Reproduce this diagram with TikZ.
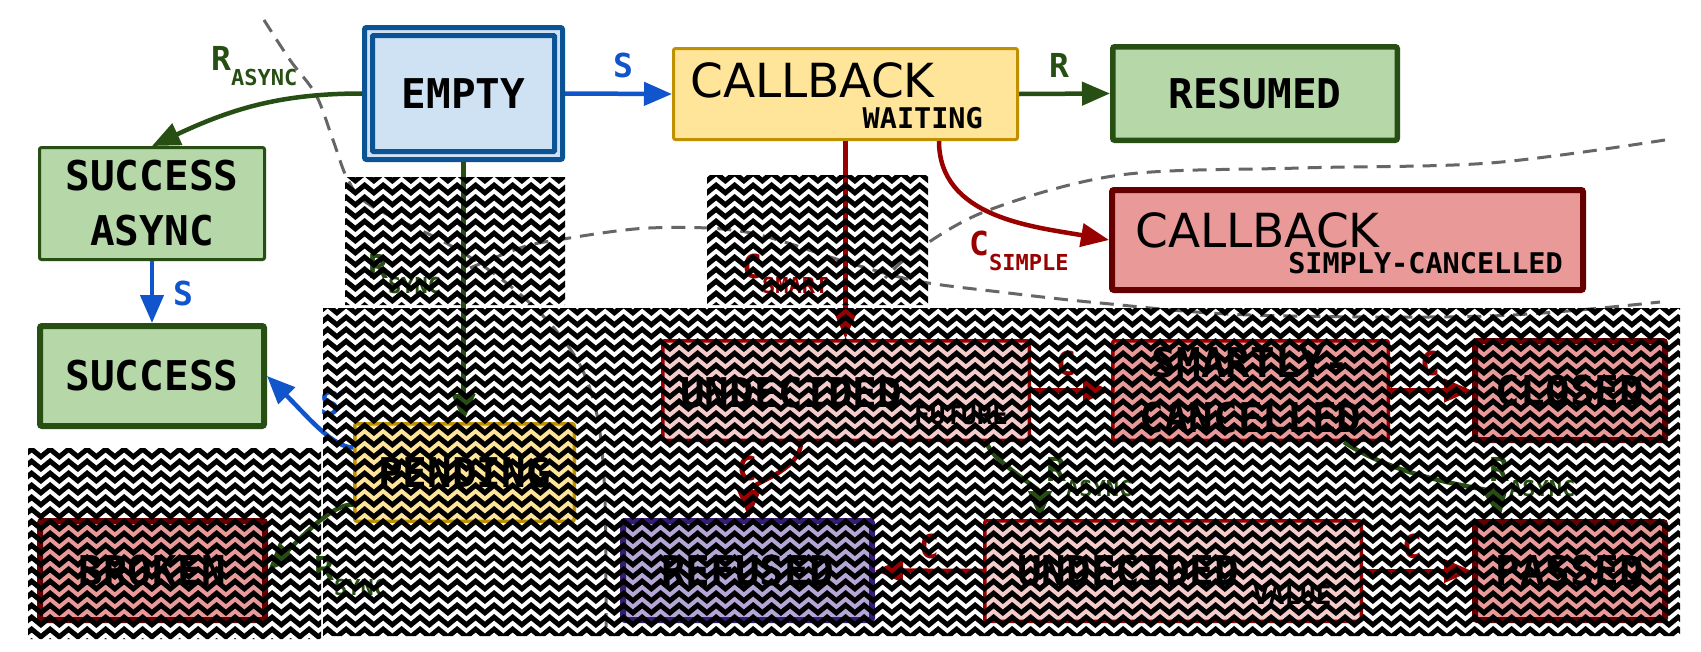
\documentclass[tikz,border=0pt]{standalone}
\usepackage{fontspec}
\setmainfont{DejaVu Sans}
\newfontfamily\monof{DejaVu Sans Mono}
\usetikzlibrary{arrows.meta,decorations.pathmorphing}
\definecolor{bluefill}{HTML}{CFE2F3}
\definecolor{blueline}{HTML}{0B5394}
\definecolor{yelfill}{HTML}{FFE599}
\definecolor{yelline}{HTML}{BF9000}
\definecolor{grnfill}{HTML}{B6D7A8}
\definecolor{grnline}{HTML}{274E13}
\definecolor{redfill}{HTML}{EA9999}
\definecolor{redline}{HTML}{660000}
\definecolor{pinkfill}{HTML}{F4CCCC}
\definecolor{darkred}{HTML}{990000}
\definecolor{purfill}{HTML}{B4A7D6}
\definecolor{purline}{HTML}{351C75}
\definecolor{arrblue}{HTML}{1155CC}
\definecolor{dashgray}{HTML}{666666}
\newcommand\bigmono{\monof\bfseries\fontsize{41}{55}\selectfont}
\newcommand\midmono{\monof\bfseries\fontsize{28.5}{32}\selectfont}
\newcommand\submono{\monof\bfseries\fontsize{26}{30}\selectfont}
\newcommand\cbfont{\fontsize{47}{50}\selectfont}
\newcommand\lblmain{\monof\bfseries\fontsize{33}{36}\selectfont}
\newcommand\lblsub{\monof\bfseries\fontsize{22}{24}\selectfont}
\newcommand\Lb[2]{{\lblmain #1}\raisebox{-15pt}{\lblsub #2}}
\begin{document}
\begin{tikzpicture}[x=1pt,y=-1pt,
  box/.style={draw, rounded corners=2pt, inner sep=0pt},
  arr/.style={line width=4.5pt, -{Triangle[length=28pt,width=23pt]}},
  lbl/.style={anchor=base west, inner sep=0pt},
  dashln/.style={draw=dashgray, line width=3pt, dash pattern=on 14pt off 9pt},
  zz/.style={line width=5pt, line join=miter, miter limit=10, decorate,
     decoration={zigzag, segment length=18.5pt, amplitude=3.8pt}}]
\useasboundingbox (0,0) rectangle (1701,651);
\fill[white] (0,0) rectangle (1701,651);

% dashed boundary curves
\draw[dashln] plot[smooth, tension=0.55] coordinates {(264,20) (290,60) (316,95) (333,140) (348,180) (370,205) (446,243) (500,278) (545,318) (580,365) (598,420) (605,500) (606,634)};
\draw[dashln] plot[smooth, tension=0.55] coordinates {(470,268) (520,248) (557,240) (649,228) (746,232) (846,262) (917,281) (1000,292) (1100,303) (1250,315) (1490,316) (1660,302)};
\draw[dashln] plot[smooth, tension=0.55] coordinates {(1665,140) (1490,163) (1300,168) (1120,175) (989,210) (917,250) (885,278)};

% boxes
\node[box, fill=bluefill, draw=blueline, line width=5pt, minimum width=198pt, minimum height=132pt] (empty) at (463.5,93.5) {};
\node[draw=blueline, line width=5pt, minimum width=182pt, minimum height=116pt, inner sep=0pt, rounded corners=1pt, font=\bigmono] (emptyin) at (empty.center) {EMPTY};

\node[box, fill=yelfill, draw=yelline, line width=3pt, minimum width=344pt, minimum height=91pt] (cbw) at (845.5,94) {};
\node[anchor=base west, inner sep=0pt, font=\cbfont] (cbwa) at (690,97) {CALLBACK};
\node[anchor=base east, inner sep=0pt, font=\midmono] (cbwb) at (983,128) {WAITING};

\node[box, fill=grnfill, draw=grnline, line width=5.5pt, minimum width=284.5pt, minimum height=93.5pt, font=\bigmono] (resumed) at (1255,93.5) {RESUMED};

\node[box, fill=grnfill, draw=grnline, line width=3pt, minimum width=225pt, minimum height=112pt, font=\bigmono, align=center] (sa) at (152,203.5) {SUCCESS\\ASYNC};

\node[box, fill=grnfill, draw=grnline, line width=6pt, minimum width=224pt, minimum height=100pt, font=\bigmono] (success) at (152,376) {SUCCESS};

\node[box, fill=redfill, draw=redline, line width=6pt, minimum width=471pt, minimum height=100pt] (simply) at (1347.5,240) {};
\node[anchor=base west, inner sep=0pt, font=\cbfont] (simplya) at (1135,247) {CALLBACK};
\node[anchor=base east, inner sep=0pt, font=\midmono] (simplyb) at (1563,273) {SIMPLY-CANCELLED};

\node[box, fill=yelfill, draw=yelline, line width=3.5pt, minimum width=219.5pt, minimum height=97.5pt, font=\bigmono] (pending) at (464.5,472.5) {PENDING};

\node[box, fill=redfill, draw=redline, line width=6pt, minimum width=225pt, minimum height=99pt, font=\bigmono] (broken) at (152.5,570.5) {BROKEN};

\node[box, fill=pinkfill, draw=darkred, line width=3.5pt, minimum width=366.5pt, minimum height=99.5pt] (uf) at (846,390.5) {};
\node[anchor=base west, inner sep=0pt, font=\bigmono] (ufa) at (680,407) {UNDECIDED};
\node[anchor=base west, inner sep=0pt, font=\submono] (ufb) at (914,424) {FUTURE};

\node[box, fill=redfill, draw=darkred, line width=3.5pt, minimum width=275.5pt, minimum height=99.5pt, font=\bigmono, align=center] (smartly) at (1250.5,390.5) {SMARTLY-\\CANCELLED};

\node[box, fill=redfill, draw=redline, line width=6pt, minimum width=190pt, minimum height=99pt, font=\bigmono] (closed) at (1570,390.5) {CLOSED};

\node[box, fill=purfill, draw=purline, line width=6pt, minimum width=249pt, minimum height=99pt, font=\bigmono] (refused) at (747.5,570.5) {REFUSED};

\node[box, fill=pinkfill, draw=darkred, line width=3.5pt, minimum width=376.5pt, minimum height=100.5pt] (value) at (1173,571) {};
\node[anchor=base west, inner sep=0pt, font=\bigmono] (valuea) at (1017,585) {UNDECIDED};
\node[anchor=base west, inner sep=0pt, font=\submono] (valueb) at (1253,604) {VALUE};

\node[box, fill=redfill, draw=redline, line width=6pt, minimum width=190pt, minimum height=98pt, font=\bigmono] (passed) at (1570,571) {PASSED};

% connectors
\draw[arr, arrblue] (empty.east) -- (cbw.west);
\draw[arr, grnline] (cbw.east) -- (resumed.west);
\draw[arr, grnline] (empty.west) to[out=180,in=25] (sa.north);
\draw[arr, arrblue] (sa.south) -- (success.north);
\draw[arr, grnline] (empty.south) -- (empty.south |- pending.north);
\draw[arr, darkred] (cbw.south) -- (cbw.south |- uf.north);
\draw[arr, darkred] ([xshift=93.5pt]cbw.south) to[out=-90,in=170] (simply.west);
\draw[arr, arrblue] ([yshift=25pt]pending.west) .. controls +(-20,0) and +(40,40) .. (success.east);
\draw[arr, grnline] ([yshift=-32pt]pending.west) .. controls +(-20,0) and +(40,-40) .. (broken.east);
\draw[arr, darkred] (uf.east) -- (smartly.west);
\draw[arr, darkred] (smartly.east) -- (closed.west);
\draw[arr, darkred] ([xshift=-45pt]uf.south) .. controls +(0,30) and +(0,-35) .. ([xshift=1.5pt]refused.north);
\draw[arr, grnline] ([xshift=141pt]uf.south) .. controls +(0,15) and +(0,-30) .. ([xshift=-133pt]value.north);
\draw[arr, grnline] ([xshift=93.5pt]smartly.south) .. controls +(60,40) and +(-5,-30) .. ([xshift=-70pt]passed.north);
\draw[arr, darkred] (value.west) -- (refused.east);
\draw[arr, darkred] (value.east) -- (passed.west);

% labels
\node[lbl, text=arrblue] (l1) at (613,77) {\Lb{S}{}};
\node[lbl, text=grnline] (l2) at (1049,77) {\Lb{R}{}};
\node[lbl, text=grnline] (l3) at (211,70) {\Lb{R}{ASYNC}};
\node[lbl, text=arrblue] (l4) at (173,305) {\Lb{S}{}};
\node[lbl, text=grnline] (l5) at (368,278) {\Lb{R}{SYNC}};
\node[lbl, text=darkred] (l6) at (742,278) {\Lb{C}{SMART}};
\node[lbl, text=darkred] (l7) at (969,255) {\Lb{C}{SIMPLE}};
\node[lbl, text=arrblue] (l8) at (320,415) {\Lb{S}{}};
\node[lbl, text=grnline] (l9) at (314,580) {\Lb{R}{SYNC}};
\node[lbl, text=darkred] (l10) at (1056,375) {\Lb{C}{}};
\node[lbl, text=darkred] (l11) at (1420,375) {\Lb{C}{}};
\node[lbl, text=darkred] (l12) at (737,480) {\Lb{C}{}};
\node[lbl, text=grnline] (l13) at (1046,481) {\Lb{R}{ASYNC}};
\node[lbl, text=grnline] (l14) at (1489,481) {\Lb{R}{ASYNC}};
\node[lbl, text=darkred] (l15) at (919,558) {\Lb{C}{}};
\node[lbl, text=darkred] (l16) at (1402,558) {\Lb{C}{}};

% zigzag overlay
\begin{scope}
\clip (345,177) rectangle (565,305) (707,175) rectangle (928,305)
      (323,308) rectangle (1680,636) (28,448) rectangle (321,639);
\foreach \i in {0,...,41} {
  \draw[zz] (-10,{165+\i*12}) -- (1720,{165+\i*12});
}
\end{scope}
\end{tikzpicture}
\end{document}
